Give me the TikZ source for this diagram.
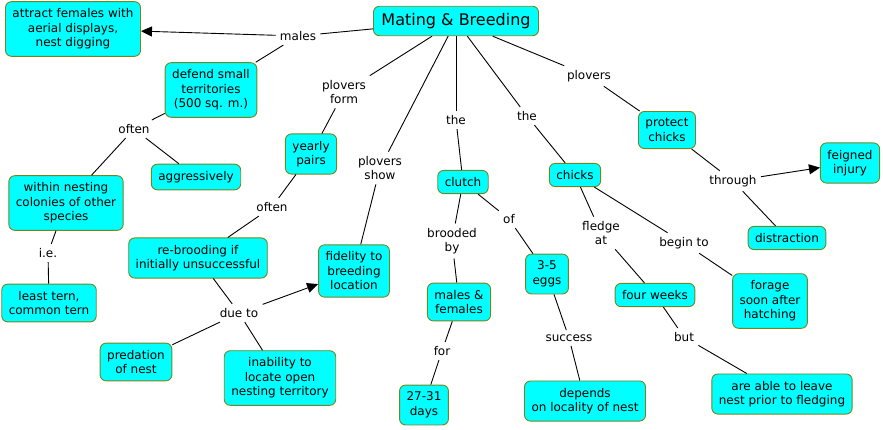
\documentclass[tikz,border=0pt]{standalone}
\usepackage{fontspec}
\setmainfont{DejaVu Sans}
\usepackage{xcolor}
\usetikzlibrary{arrows.meta}
\definecolor{cmapfill}{RGB}{0,255,255}
\definecolor{cmapedge}{RGB}{110,135,30}
\newcommand{\testo}{\fontsize{12}{14.5}\selectfont}

\begin{document}
\begin{tikzpicture}[x=1pt,y=-1pt,>={Triangle[length=11pt,width=10pt]},
  concept/.style={draw=cmapedge,line width=0.9pt,fill=cmapfill,rounded corners=6pt,
    align=center,inner xsep=7pt,inner ysep=7pt,font=\testo},
  phrase/.style={align=center,inner sep=4pt,font=\testo},
  every path/.style={line width=0.9pt}]
  \useasboundingbox (0,0) rectangle (883,429);
  \node[concept,font=\fontsize{16}{19}\selectfont,inner xsep=8pt] (mb) at (456,21) {Mating \& Breeding};
  \node[concept] (attract) at (73,29) {attract females with\\aerial displays,\\nest digging};
  \node[concept] (defend) at (211,90) {defend small\\territories\\(500 sq. m.)};
  \node[concept] (aggr) at (196,177) {aggressively};
  \node[concept] (within) at (66,203) {within nesting\\colonies of other\\species};
  \node[concept] (tern) at (49,303) {least tern,\\common tern};
  \node[concept] (pairs) at (311,154) {yearly\\pairs};
  \node[concept] (rebrood) at (198,258) {re-brooding if\\initially unsuccessful};
  \node[concept] (fidelity) at (354,271) {fidelity to\\breeding\\location};
  \node[concept] (predation) at (136,362) {predation\\of nest};
  \node[concept] (inability) at (280,378) {inability to\\locate open\\nesting territory};
  \node[concept] (clutch) at (463,182) {clutch};
  \node[concept] (mf) at (459,302) {males \&\\females};
  \node[concept] (days) at (424,405) {27-31\\days};
  \node[concept] (eggs) at (547,274) {3-5\\eggs};
  \node[concept] (depends) at (585,401) {depends\\on locality of nest};
  \node[concept] (chicks) at (575,175) {chicks};
  \node[concept] (weeks) at (655,295) {four weeks};
  \node[concept] (forage) at (770,301) {forage\\soon after\\hatching};
  \node[concept] (leave) at (782,394) {are able to leave\\nest prior to fledging};
  \node[concept] (protect) at (667,130) {protect\\chicks};
  \node[concept] (feigned) at (850,163) {feigned\\injury};
  \node[concept] (distr) at (787,238) {distraction};

  \node[phrase] (males) at (298,36) {males};
  \node[phrase] (often) at (134,129) {often};
  \node[phrase] (ie) at (48,253) {i.e.};
  \node[phrase] (form) at (344,92) {plovers\\form};
  \node[phrase] (often2) at (272,207) {often};
  \node[phrase] (show) at (380,168) {plovers\\show};
  \node[phrase] (dueto) at (239,313) {due to};
  \node[phrase] (the) at (456,120) {the};
  \node[phrase] (brooded) at (452,241) {brooded\\by};
  \node[phrase] (of) at (509,219) {of};
  \node[phrase] (for) at (442,351) {for};
  \node[phrase] (success) at (569,338) {success};
  \node[phrase] (the2) at (527,116) {the};
  \node[phrase] (fledge) at (601,233) {fledge\\at};
  \node[phrase] (begin) at (684,243) {begin to};
  \node[phrase] (but) at (684,337) {but};
  \node[phrase] (plovers) at (589,76) {plovers};
  \node[phrase] (through) at (733,181) {through};

  \foreach \a/\b in {mb/males,males/defend,defend/often,often/aggr,often/within,
    within/ie,ie/tern,mb/form,form/pairs,pairs/often2,often2/rebrood,rebrood/dueto,
    dueto/predation,dueto/inability,mb/show,show/fidelity,mb/the,the/clutch,
    clutch/brooded,brooded/mf,mf/for,for/days,clutch/of,of/eggs,eggs/success,
    success/depends,mb/the2,the2/chicks,chicks/fledge,fledge/weeks,weeks/but,
    but/leave,chicks/begin,begin/forage,mb/plovers,plovers/protect,
    protect/through,through/distr}
    \draw (\a) -- (\b);
  \draw[->] (males) -- (attract);
  \draw[->] (dueto) -- (fidelity);
  \draw[->] (through) -- (feigned);
\end{tikzpicture}
\end{document}
